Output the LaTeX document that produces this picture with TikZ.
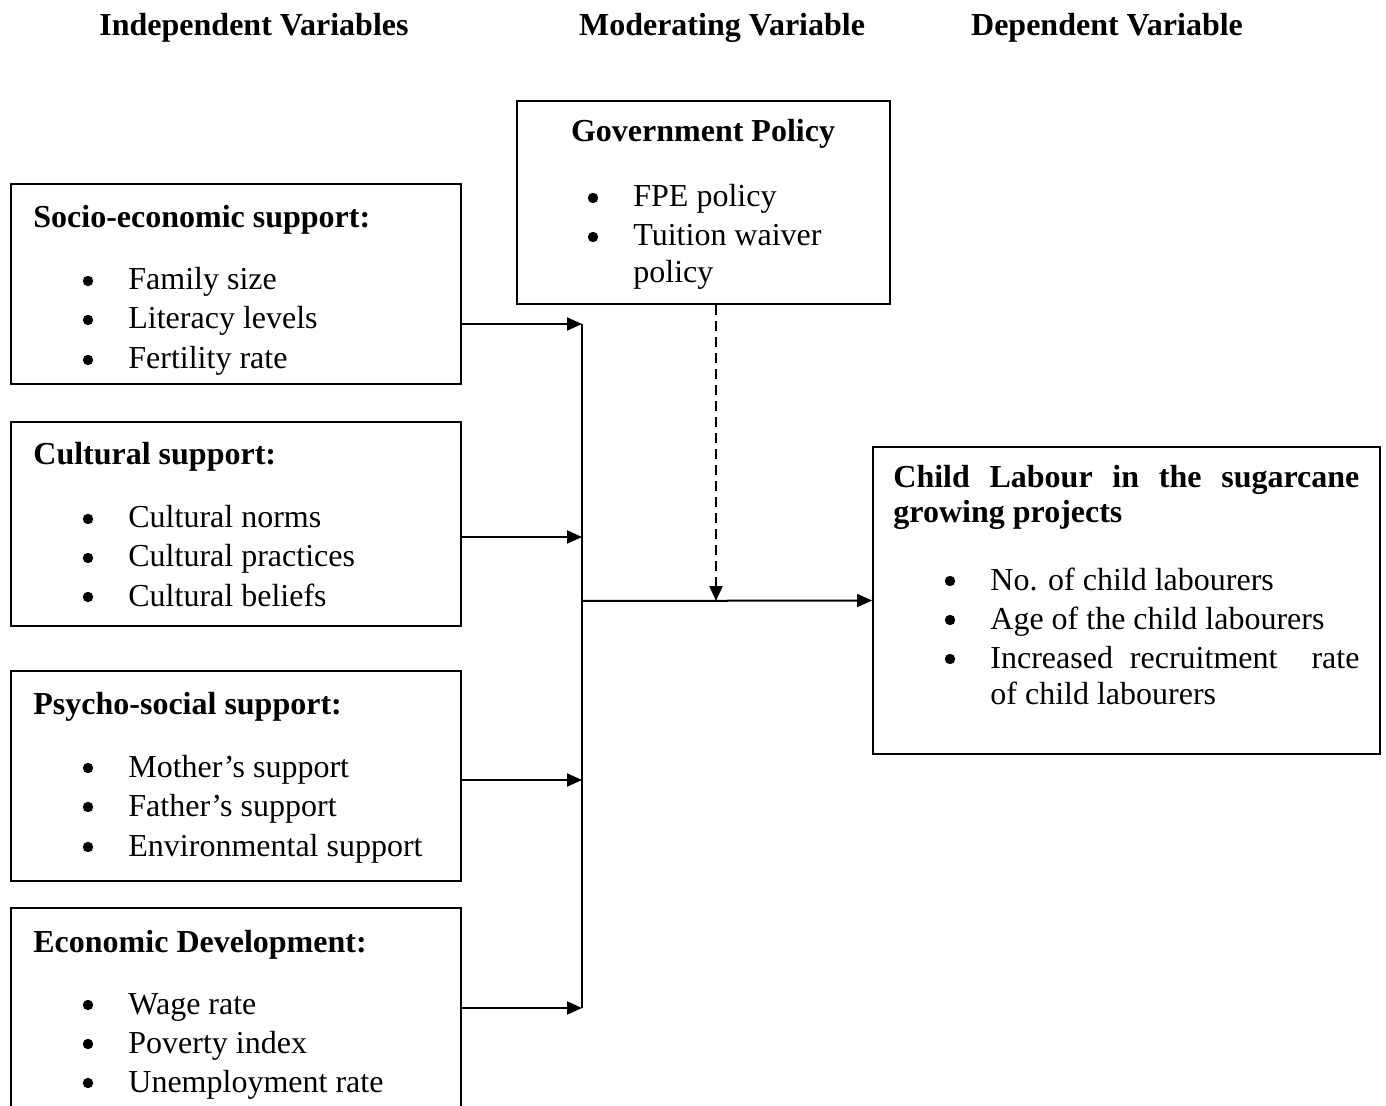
\documentclass[tikz,border=0pt]{standalone}
\usepackage{fontspec}
\setmainfont{Liberation Serif}
\usetikzlibrary{arrows.meta,positioning}

\tikzset{
  box/.style={draw,line width=1pt,inner sep=0pt},
  txt/.style={anchor=base west,inner sep=0pt,font=\fontsize{16}{19}\selectfont},
  head/.style={anchor=base west,inner sep=0pt,font=\fontsize{16}{19}\selectfont\bfseries},
  bul/.style={circle,fill,inner sep=0pt,minimum size=5.2pt},
  link/.style={line width=1pt,-{Triangle[length=7.5pt,width=6.5pt]}}
}

\begin{document}
\begin{tikzpicture}[x=0.5pt,y=-0.5pt]
\useasboundingbox (0,0) rectangle (1386,1106);
\clip (0,0) rectangle (1386,1106);

% column titles
\node[head,anchor=base] (tind) at (254,36) {Independent Variables};
\node[head,anchor=base] (tmod) at (722,36) {Moderating Variable};
\node[head,anchor=base] (tdep) at (1107,36) {Dependent Variable};

% boxes
\node[box,minimum width=225pt,minimum height=100pt] (se) at (236,284) {};
\node[box,minimum width=225pt,minimum height=102pt] (cult) at (236,524) {};
\node[box,minimum width=225pt,minimum height=105pt] (psy) at (236,776) {};
\node[box,minimum width=225pt,minimum height=106pt] (econ) at (236,1014) {};
\node[box,minimum width=186.5pt,minimum height=101.5pt] (gov) at (703.5,202.5) {};
\node[box,minimum width=253.5pt,minimum height=153.5pt] (child) at (1126.5,600.5) {};

% socio-economic
\node[head] (sehead) at (33,228) {Socio-economic support:};
\node[bul] (seb1) at (88,281) {};
\node[bul] (seb2) at (88,320) {};
\node[bul] (seb3) at (88,360) {};
\node[txt] (se1) at (128,290) {Family size};
\node[txt] (se2) at (128,329) {Literacy levels};
\node[txt] (se3) at (128,369) {Fertility rate};

% cultural
\node[head] (culthead) at (33,465) {Cultural support:};
\node[bul] (cultb1) at (88,519) {};
\node[bul] (cultb2) at (88,558) {};
\node[bul] (cultb3) at (88,597) {};
\node[txt] (cult1) at (128,528) {Cultural norms};
\node[txt] (cult2) at (128,567) {Cultural practices};
\node[txt] (cult3) at (128,606) {Cultural beliefs};

% psycho-social
\node[head] (psyhead) at (33,714) {Psycho-social support:};
\node[bul] (psyb1) at (88,768) {};
\node[bul] (psyb2) at (88,807) {};
\node[bul] (psyb3) at (88,847) {};
\node[txt] (psy1) at (128,777) {Mother’s support};
\node[txt] (psy2) at (128,816) {Father’s support};
\node[txt] (psy3) at (128,856) {Environmental support};

% economic
\node[head] (econhead) at (33,952) {Economic Development:};
\node[bul] (econb1) at (88,1005) {};
\node[bul] (econb2) at (88,1044) {};
\node[bul] (econb3) at (88,1083) {};
\node[txt] (econ1) at (128,1014) {Wage rate};
\node[txt] (econ2) at (128,1053) {Poverty index};
\node[txt] (econ3) at (128,1092) {Unemployment rate};

% government policy
\node[head,anchor=base] (govhead) at (703,142) {Government Policy};
\node[bul] (govb1) at (593,198) {};
\node[bul] (govb2) at (593,237) {};
\node[txt] (gov1) at (633,207) {FPE policy};
\node[txt] (gov2) at (633,246) {Tuition waiver};
\node[txt] (gov3) at (633,283) {policy};

% child labour
\node[head] (childhead1) at (893,488) {\makebox[233pt][s]{Child Labour in the sugarcane}};
\node[head] (childhead2) at (893,523) {growing projects};
\node[bul] (childb1) at (950,581) {};
\node[bul] (childb2) at (950,620) {};
\node[bul] (childb3) at (950,659) {};
\node[txt] (child1) at (990,590) {No. of child labourers};
\node[txt] (child2) at (990,629) {Age of the child labourers};
\node[txt] (child3) at (990,668) {\makebox[184.5pt][s]{Increased recruitment\ \ rate}};
\node[txt] (child4) at (990,704) {of child labourers};

% joints on the bus
\coordinate (j1) at (582,324);
\coordinate (j2) at (582,537);
\coordinate (j3) at (582,780);
\coordinate (j4) at (582,1008);
\coordinate (jm) at (582,601);
\coordinate (dm) at (716,601);

\draw[line width=1pt] (j1) -- (j4);
\draw[link] (se.east |- j1) -- (j1);
\draw[link] (cult.east |- j2) -- (j2);
\draw[link] (psy.east |- j3) -- (j3);
\draw[link] (econ.east |- j4) -- (j4);
\draw[link] (jm) -- (child.west);
\draw[link,dash pattern=on 5pt off 3pt] (gov.south -| dm) -- (dm);
\end{tikzpicture}
\end{document}
